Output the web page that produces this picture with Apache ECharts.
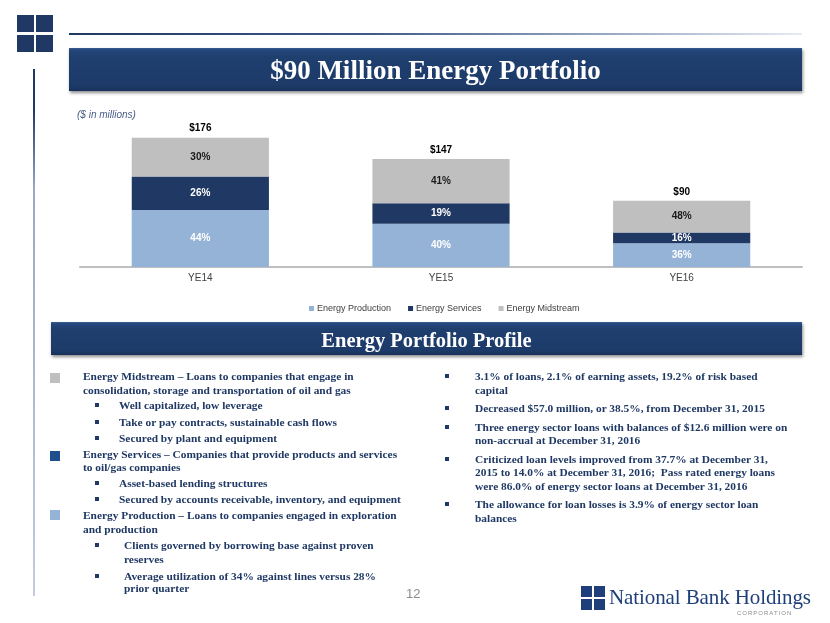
<!DOCTYPE html>
<html><head><meta charset="utf-8">
<script src="https://cdn.jsdelivr.net/npm/echarts@6/dist/echarts.min.js"></script>
<style>
html,body{margin:0;padding:0;background:#fff;}
#wrap{position:relative;width:830px;height:623px;overflow:hidden;}
#chart{position:absolute;left:0;top:0;width:830px;height:623px;}
.abs{position:absolute;}
.banner{position:absolute;background:linear-gradient(#3a5e93 0px,#24467a 2px,#1f3f6f 20%,#1d3b69 85%,#17315a 100%);box-shadow:1px 2px 3px rgba(0,0,0,0.45);color:#fff;font-family:"Liberation Serif","Times New Roman",serif;font-weight:bold;text-align:center;white-space:nowrap;}
.t{position:absolute;font-family:"Liberation Serif","Times New Roman",serif;font-weight:bold;color:#1f3864;font-size:11.4px;white-space:pre;line-height:14px;height:14px;}
.b{position:absolute;width:4px;height:4px;background:#1f3864;}
.sq{position:absolute;width:10px;height:10px;}
</style>
</head>
<body>
<div id="wrap">
  <div id="chart"></div>
  <!-- top-left logo -->
  <div class="abs" style="left:17px;top:15px;width:17px;height:17px;background:#1f3864"></div>
  <div class="abs" style="left:36px;top:15px;width:17px;height:17px;background:#1f3864"></div>
  <div class="abs" style="left:17px;top:35px;width:17px;height:17px;background:#1f3864"></div>
  <div class="abs" style="left:36px;top:35px;width:17px;height:17px;background:#1f3864"></div>
  <div class="abs" style="left:33px;top:69px;width:2px;height:527px;background:linear-gradient(#1f3864 0px,#1f3864 40px,#9aa8c4 120px,#c3cbdc 100%)"></div>
  <div class="abs" style="left:69px;top:33px;width:733px;height:2px;background:linear-gradient(90deg,#1f3864 0%,#3c5884 40%,#b8c4d8 85%,#e6ebf3 100%)"></div>
  <div class="banner" style="left:69px;top:48px;width:733px;height:43px;line-height:45px;font-size:27px;">$90 Million Energy Portfolio</div>
  <div class="banner" style="left:51px;top:322px;width:751px;height:33px;line-height:36px;font-size:20.5px;">Energy Portfolio Profile</div>
  <div id="texts"></div>
  <div class="abs" style="left:406px;top:586px;font-family:'Liberation Sans',Arial,sans-serif;font-size:13px;color:#8c8c8c;line-height:16px;">12</div>
  <!-- bottom-right logo -->
  <div class="abs" style="left:581px;top:586px;width:11px;height:11px;background:#1f3f7a"></div>
  <div class="abs" style="left:594px;top:586px;width:11px;height:11px;background:#1f3f7a"></div>
  <div class="abs" style="left:581px;top:599px;width:11px;height:11px;background:#1f3f7a"></div>
  <div class="abs" style="left:594px;top:599px;width:11px;height:11px;background:#1f3f7a"></div>
  <div class="abs" style="left:609px;top:585px;font-family:'Liberation Serif','Times New Roman',serif;font-size:21px;color:#1f3f7a;line-height:24px;white-space:nowrap;letter-spacing:-0.1px;">National Bank Holdings</div>
  <div class="abs" style="left:737px;top:609px;font-family:'Liberation Sans',Arial,sans-serif;font-size:6px;color:#8c8c8c;letter-spacing:1px;line-height:8px;">CORPORATION</div>
</div>
<script>
// ---- chart data ----
const categories = ['YE14', 'YE15', 'YE16'];
const production = [77.4, 58.8, 32.4];
const services = [45.8, 27.9, 14.4];
const midstream = [52.8, 60.3, 43.2];
const productionPct = ['44%', '40%', '36%'];
const servicesPct = ['26%', '19%', '16%'];
const midstreamPct = ['30%', '41%', '48%'];
const totalLabels = ['$176', '$147', '$90'];
const seriesNames = ['Energy Production', 'Energy Services', 'Energy Midstream'];

// ---- text blocks ----
const leftLines = [
  [83, 376, 'Energy Midstream – Loans to companies that engage in', 0],
  [83, 390, 'consolidation, storage and transportation of oil and gas', 0],
  [119, 405, 'Well capitalized, low leverage', 1],
  [119, 421.5, 'Take or pay contracts, sustainable cash flows', 1],
  [119, 437.5, 'Secured by plant and equipment', 1],
  [83, 454, 'Energy Services – Companies that provide products and services', 0],
  [83, 467, 'to oil/gas companies', 0],
  [119, 483, 'Asset-based lending structures', 1],
  [119, 499, 'Secured by accounts receivable, inventory, and equipment', 1],
  [83, 515, 'Energy Production – Loans to companies engaged in exploration', 0],
  [83, 529, 'and production', 0],
  [124, 545, 'Clients governed by borrowing base against proven', 1],
  [124, 559, 'reserves', 0],
  [124, 575.5, 'Average utilization of 34% against lines versus 28%', 1],
  [124, 588, 'prior quarter', 0]
];
const rightLines = [
  [475, 376, '3.1% of loans, 2.1% of earning assets, 19.2% of risk based', 1],
  [475, 390, 'capital', 0],
  [475, 408, 'Decreased $57.0 million, or 38.5%, from December 31, 2015', 1],
  [475, 426.5, 'Three energy sector loans with balances of $12.6 million were on', 1],
  [475, 440, 'non-accrual at December 31, 2016', 0],
  [475, 459, 'Criticized loan levels improved from 37.7% at December 31,', 1],
  [475, 472, '2015 to 14.0% at December 31, 2016;  Pass rated energy loans', 0],
  [475, 485.5, 'were 86.0% of energy sector loans at December 31, 2016', 0],
  [475, 504, 'The allowance for loan losses is 3.9% of energy sector loan', 1],
  [475, 517.5, 'balances', 0]
];
const box = document.getElementById('texts');
function addLines(lines, bx) {
  lines.forEach(l => {
    const d = document.createElement('div');
    d.className = 't';
    d.style.left = l[0] + 'px';
    d.style.top = (l[1] - 7) + 'px';
    d.textContent = l[2];
    box.appendChild(d);
    if (l[3]) {
      const b = document.createElement('div');
      b.className = 'b';
      b.style.left = bx + 'px';
      b.style.top = (l[1] - 2) + 'px';
      box.appendChild(b);
    }
  });
}
addLines(leftLines, 95);
addLines(rightLines, 445);
[[373, '#bfbfbf'], [451, '#1f4e8c'], [510, '#95b3d7']].forEach(s => {
  const q = document.createElement('div');
  q.className = 'sq';
  q.style.left = '50px';
  q.style.top = s[0] + 'px';
  q.style.background = s[1];
  box.appendChild(q);
});

// ---- chart ----
const colors = ['#95b3d7', '#203864', '#bfbfbf'];
const chart = echarts.init(document.getElementById('chart'), null, {renderer: 'canvas'});
const labelBase = {show: true, position: 'inside', fontSize: 10, fontWeight: 'bold', fontFamily: 'Liberation Sans, Arial, sans-serif'};
const option = {
  animation: false,
  backgroundColor: 'transparent',
  title: {
    text: '($ in millions)', left: 72, top: 105,
    textStyle: {fontSize: 10, fontStyle: 'italic', fontWeight: 'normal', color: '#4a5d8a', fontFamily: 'Liberation Sans, Arial, sans-serif'}
  },
  legend: {
    data: seriesNames, left: 304, top: 299, itemWidth: 5, itemHeight: 5, itemGap: 17, icon: 'rect',
    textStyle: {fontSize: 9, color: '#404040', fontFamily: 'Liberation Sans, Arial, sans-serif', padding: [0, 0, 0, -2]}
  },
  grid: {left: 80, right: 28, top: 120, bottom: 356, containLabel: false},
  xAxis: {
    type: 'category', data: categories,
    axisLine: {show: true, lineStyle: {color: '#bfbfbf', width: 2}},
    axisTick: {show: false},
    axisLabel: {fontSize: 10, color: '#404040', margin: 6, fontFamily: 'Liberation Sans, Arial, sans-serif'}
  },
  yAxis: {type: 'value', min: 0, max: 200, show: false, splitLine: {show: false}},
  series: [
    {name: seriesNames[0], type: 'bar', stack: 'total', barWidth: '57%', data: production,
     itemStyle: {color: colors[0]},
     label: Object.assign({}, labelBase, {color: '#ffffff', formatter: p => productionPct[p.dataIndex]})},
    {name: seriesNames[1], type: 'bar', stack: 'total', data: services,
     itemStyle: {color: colors[1]},
     label: Object.assign({}, labelBase, {color: '#ffffff', formatter: p => servicesPct[p.dataIndex]})},
    {name: seriesNames[2], type: 'bar', stack: 'total', data: midstream,
     itemStyle: {color: colors[2]},
     label: Object.assign({}, labelBase, {color: '#1a1a1a', formatter: p => midstreamPct[p.dataIndex]})},
    {name: 'Total', type: 'bar', stack: 'total', data: [0, 0, 0],
     itemStyle: {color: 'transparent'},
     label: Object.assign({}, labelBase, {position: 'top', distance: 4, color: '#000000', formatter: p => totalLabels[p.dataIndex]})}
  ]
};
chart.setOption(option);
</script>
</body></html>
